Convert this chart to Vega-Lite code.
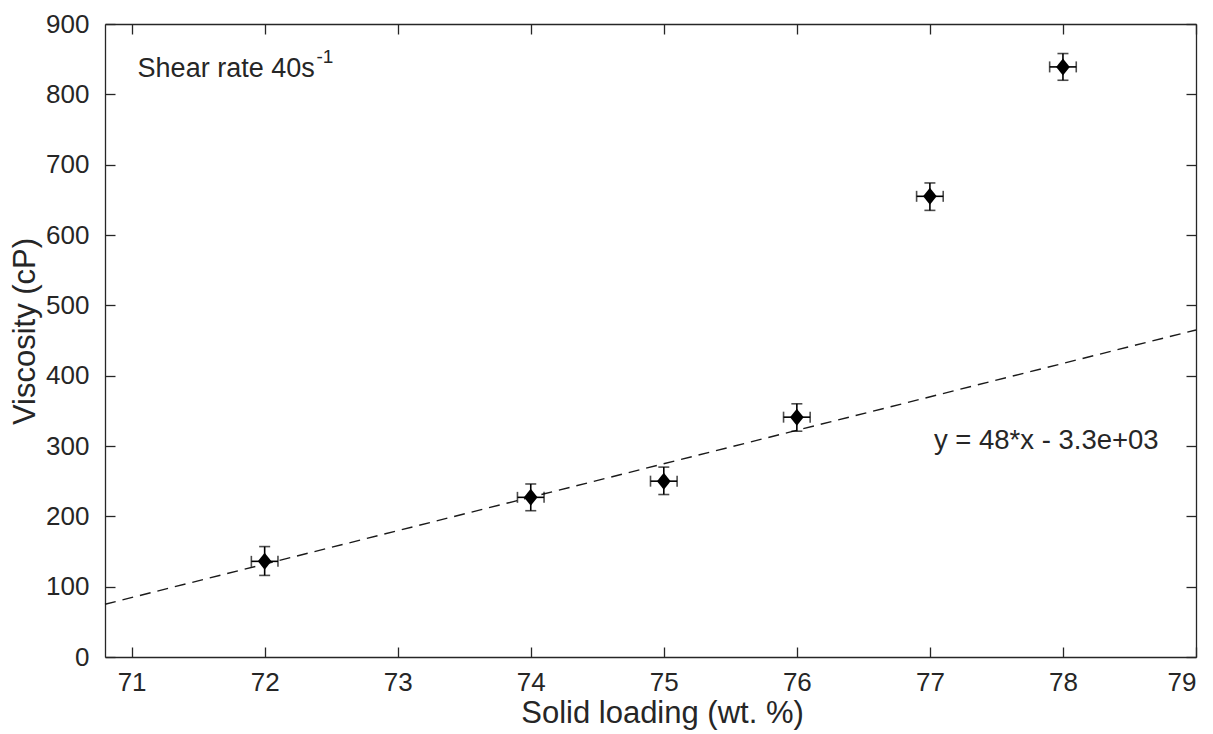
{
  "$schema": "https://vega.github.io/schema/vega-lite/v6.json",
  "width": 1091,
  "height": 633,
  "autosize": {"type": "none"},
  "padding": {"left": 105, "top": 24, "right": 17, "bottom": 77},
  "background": "white",
  "config": {
    "view": {"stroke": null},
    "font": "Liberation Sans",
    "axis": {
      "grid": false,
      "domainColor": "#262626",
      "domainWidth": 1.3,
      "tickColor": "#262626",
      "tickWidth": 1.3,
      "tickSize": -10,
      "labelColor": "#262626",
      "labelFont": "Liberation Sans",
      "labelFontSize": 26,
      "titleColor": "#262626",
      "titleFont": "Liberation Sans",
      "titleFontSize": 31,
      "titleFontWeight": "normal"
    }
  },
  "datasets": {
    "pts": [
      {"x": 72, "y": 136, "ylo": 116, "yhi": 157, "xlo": 71.9, "xhi": 72.1},
      {"x": 74, "y": 227, "ylo": 208, "yhi": 246, "xlo": 73.9, "xhi": 74.1},
      {"x": 75, "y": 250, "ylo": 231, "yhi": 270, "xlo": 74.9, "xhi": 75.1},
      {"x": 76, "y": 341, "ylo": 321, "yhi": 360, "xlo": 75.9, "xhi": 76.1},
      {"x": 77, "y": 655, "ylo": 635, "yhi": 674, "xlo": 76.9, "xhi": 77.1},
      {"x": 78, "y": 839, "ylo": 820, "yhi": 858, "xlo": 77.9, "xhi": 78.1}
    ],
    "fit": [
      {"x": 70.8, "y": 75},
      {"x": 79, "y": 465}
    ],
    "labels": [
      {"x": 71.045, "y": 824.7, "t": "Shear rate 40s", "kind": "main"},
      {"x": 72.39, "y": 844.6, "t": "-1", "kind": "sup"},
      {"x": 77.03, "y": 296.2, "t": "y = 48*x - 3.3e+03", "kind": "eq"}
    ]
  },
  "resolve": {"axis": {"x": "independent", "y": "independent"}},
  "layer": [
    {
      "data": {"name": "fit"},
      "mark": {"type": "line", "color": "#1a1a1a", "strokeWidth": 1.4, "strokeDash": [11, 7]},
      "encoding": {
        "x": {"field": "x", "type": "quantitative",
              "scale": {"domain": [70.8, 79], "nice": false, "zero": false},
              "axis": {"orient": "bottom", "values": [71, 72, 73, 74, 75, 76, 77, 78, 79],
                       "title": "Solid loading (wt. %)", "labelPadding": 22, "format": "d",
                       "titleX": 557, "titleY": 65, "titleBaseline": "alphabetic", "titleAlign": "center"}},
        "y": {"field": "y", "type": "quantitative",
              "scale": {"domain": [0, 900], "nice": false},
              "axis": {"orient": "left", "values": [0, 100, 200, 300, 400, 500, 600, 700, 800, 900],
                       "title": "Viscosity (cP)", "labelPadding": 26, "format": "d",
                       "titleX": -71, "titleY": 307, "titleBaseline": "alphabetic", "titleAlign": "center", "titleAngle": 270}}
      }
    },
    {
      "data": {"name": "pts"},
      "mark": {"type": "rule", "color": "#000", "strokeWidth": 1.6},
      "encoding": {
        "x": {"field": "x", "type": "quantitative",
              "axis": {"orient": "top", "values": [71, 72, 73, 74, 75, 76, 77, 78, 79], "labels": false, "title": null}},
        "y": {"field": "ylo", "type": "quantitative",
              "axis": {"orient": "right", "values": [0, 100, 200, 300, 400, 500, 600, 700, 800, 900], "labels": false, "title": null}},
        "y2": {"field": "yhi"}
      }
    },
    {
      "data": {"name": "pts"},
      "mark": {"type": "rule", "color": "#000", "strokeWidth": 1.6},
      "encoding": {
        "x": {"field": "xlo", "type": "quantitative", "axis": null},
        "x2": {"field": "xhi"},
        "y": {"field": "y", "type": "quantitative", "axis": null}
      }
    },
    {
      "data": {"name": "pts"},
      "mark": {"type": "tick", "orient": "horizontal", "color": "#000", "size": 11, "thickness": 1.6},
      "encoding": {
        "x": {"field": "x", "type": "quantitative", "axis": null},
        "y": {"field": "ylo", "type": "quantitative", "axis": null}
      }
    },
    {
      "data": {"name": "pts"},
      "mark": {"type": "tick", "orient": "horizontal", "color": "#000", "size": 11, "thickness": 1.6},
      "encoding": {
        "x": {"field": "x", "type": "quantitative", "axis": null},
        "y": {"field": "yhi", "type": "quantitative", "axis": null}
      }
    },
    {
      "data": {"name": "pts"},
      "mark": {"type": "tick", "orient": "vertical", "color": "#000", "size": 11, "thickness": 1.6},
      "encoding": {
        "x": {"field": "xlo", "type": "quantitative", "axis": null},
        "y": {"field": "y", "type": "quantitative", "axis": null}
      }
    },
    {
      "data": {"name": "pts"},
      "mark": {"type": "tick", "orient": "vertical", "color": "#000", "size": 11, "thickness": 1.6},
      "encoding": {
        "x": {"field": "xhi", "type": "quantitative", "axis": null},
        "y": {"field": "y", "type": "quantitative", "axis": null}
      }
    },
    {
      "data": {"name": "pts"},
      "mark": {"type": "point", "shape": "M0,-1.1L0.88,0L0,1.1L-0.88,0Z", "filled": true, "color": "#000", "opacity": 1, "size": 240},
      "encoding": {
        "x": {"field": "x", "type": "quantitative", "axis": null},
        "y": {"field": "y", "type": "quantitative", "axis": null}
      }
    },
    {
      "data": {"name": "labels"},
      "transform": [{"filter": "datum.kind == 'main'"}],
      "mark": {"type": "text", "align": "left", "baseline": "alphabetic", "fontSize": 27, "color": "#262626", "font": "Liberation Sans"},
      "encoding": {
        "x": {"field": "x", "type": "quantitative", "axis": null},
        "y": {"field": "y", "type": "quantitative", "axis": null},
        "text": {"field": "t"}
      }
    },
    {
      "data": {"name": "labels"},
      "transform": [{"filter": "datum.kind == 'eq'"}],
      "mark": {"type": "text", "align": "left", "baseline": "alphabetic", "fontSize": 27.5, "color": "#262626", "font": "Liberation Sans"},
      "encoding": {
        "x": {"field": "x", "type": "quantitative", "axis": null},
        "y": {"field": "y", "type": "quantitative", "axis": null},
        "text": {"field": "t"}
      }
    },
    {
      "data": {"name": "labels"},
      "transform": [{"filter": "datum.kind == 'sup'"}],
      "mark": {"type": "text", "align": "left", "baseline": "alphabetic", "fontSize": 19, "color": "#262626", "font": "Liberation Sans"},
      "encoding": {
        "x": {"field": "x", "type": "quantitative", "axis": null},
        "y": {"field": "y", "type": "quantitative", "axis": null},
        "text": {"field": "t"}
      }
    }
  ]
}
